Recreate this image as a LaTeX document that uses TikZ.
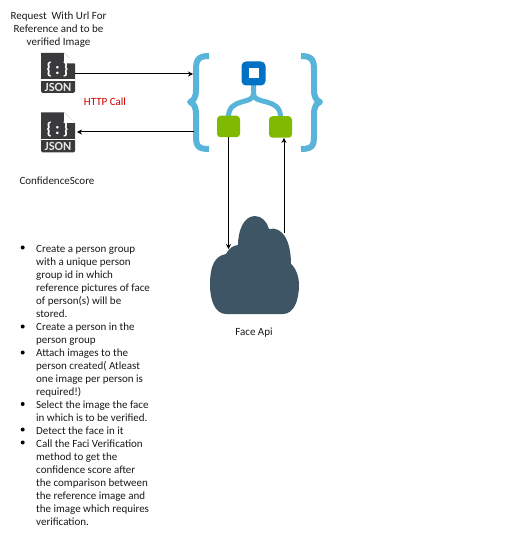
\documentclass[tikz,border=0pt]{standalone}
\usepackage{fontspec}
\setmainfont{Carlito}
\usetikzlibrary{arrows.meta}
\definecolor{jsondark}{HTML}{3A3A3C}
\definecolor{logicblue}{HTML}{59B4D9}
\definecolor{topblue}{HTML}{0072C6}
\definecolor{leafgreen}{HTML}{7FBA00}
\definecolor{cloudcol}{HTML}{3E5566}
\tikzset{
 lbl/.style={font=\fontsize{11}{13}\selectfont,inner sep=0pt,text=black!90},
 conn/.style={draw=black,line width=1pt,-{Stealth[length=5pt,width=5pt]}},
 brace/.style={draw=logicblue,line width=6pt,line join=round},
 pipe/.style={draw=logicblue,line width=5pt},
 leaf/.style={fill=leafgreen,rounded corners=3.5pt,minimum width=23pt,minimum height=21.5pt,inner sep=0pt},
 bullet/.style={fill=black},
 jsonpic/.pic={
  \fill[jsondark] (-17,-20) -- (6,-20) -- (17,-9) -- (17,18.5) arc[start angle=0,end angle=90,radius=1.5] -- (-15.5,20) arc[start angle=90,end angle=180,radius=1.5] -- cycle;
  \fill[white] (6,-20) -- (17,-9.5) -- (6,-9.5) -- cycle;
  \fill[white] (-17,6.5) rectangle (17,8);
  \node[text=white,font=\fontsize{17}{17}\selectfont\bfseries,inner sep=0pt] at (-0.5,-3) {\{\,:\,\}};
  \node[text=white!90!black,font=\fontsize{12.5}{12.5}\selectfont\bfseries,inner sep=0pt] at (0,14.2) {JSON};
 }
}
\begin{document}
\begin{tikzpicture}[x=1pt,y=-1pt]
\useasboundingbox (0,0) rectangle (505,553);
\node[lbl,align=center] (req) at (58.5,29.5) {Request\ \ With Url For\\Reference and to be\\verified Image};
\pic at (58,73) {jsonpic};
\pic at (58,132.5) {jsonpic};
\coordinate (jsonA) at (75,74);
\coordinate (jsonB) at (77,132);
\coordinate (braceA) at (193,74);
\coordinate (braceB) at (194,132);
\node[lbl,text=red!80!black] (http) at (105,102) {HTTP Call};
\node[lbl] (conf) at (57,181) {ConfidenceScore};
% logic app
\draw[brace] (209,56) .. controls (198,56) and (196,60) .. (196,70) -- (196,90) .. controls (196,98) and (193,101) .. (190,102) .. controls (193,103) and (196,106) .. (196,114) -- (196,136) .. controls (196,146) and (198,149) .. (209,149);
\draw[brace] (301,56) .. controls (312,56) and (314,60) .. (314,70) -- (314,90) .. controls (314,98) and (317,101) .. (320,102) .. controls (317,103) and (314,106) .. (314,114) -- (314,136) .. controls (314,146) and (312,149) .. (301,149);
\draw[pipe] (253.5,85) -- (253.5,94) .. controls (253.5,105) and (228.5,97) .. (228.5,117);
\draw[pipe] (253.5,94) .. controls (253.5,105) and (280.5,97) .. (280.5,117);
\node[fill=topblue,rounded corners=4.5pt,minimum size=24pt,inner sep=0pt] (top) at (253.5,73.5) {};
\node[fill=white,minimum size=10pt,inner sep=0pt] (topin) at (253.7,73.5) {};
\node[leaf] (left) at (228.5,126.5) {};
\node[leaf] (right) at (280.5,127) {};
% cloud
\fill[cloudcol] (226,314) .. controls (215,314) and (210,300) .. (210,285) .. controls (210,265) and (215,256) .. (226,254) .. controls (230,247) and (233,246) .. (238,245) .. controls (238,232) and (243,216) .. (255,216) .. controls (262,216) and (267,222) .. (269,229) .. controls (282,226) and (291,240) .. (291,264) .. controls (296,268) and (299,277) .. (299,285) .. controls (299,300) and (294,314) .. (283,314) -- cycle;
\coordinate (cloudL) at (228.5,249);
\coordinate (cloudR) at (284,233);
\node[lbl] (face) at (254,333) {Face Api};
% connectors
\draw[conn] (jsonA) -- (braceA);
\draw[conn] (braceB) -- (jsonB);
\draw[conn] (left.south) -- (cloudL);
\draw[conn] (cloudR) -- (cloudR |- right.south);
% bullets
\node[lbl,align=left,anchor=north west] (list) at (36,245) {Create a person group\\with a unique person\\group id in which\\reference pictures of face\\of person(s) will be\\stored.\\Create a person in the\\person group\\Attach images to the\\person created( Atleast\\one image per person is\\required!)\\Select the image the face\\in which is to be verified.\\Detect the face in it\\Call the Faci Verification\\method to get the\\confidence score after\\the comparison between\\the reference image and\\the image which requires\\verification.};
\foreach \yy in {247.5,326.5,352.5,404,429.5,442.5}
  \fill[bullet] (22.7,\yy) circle (2);
\end{tikzpicture}
\end{document}
